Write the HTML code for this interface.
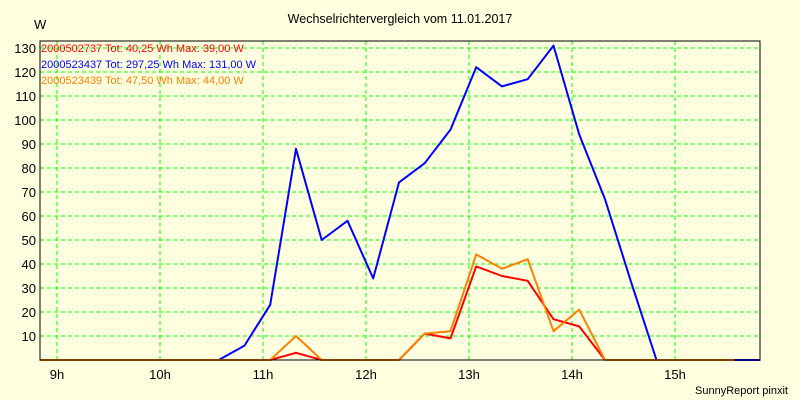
<!DOCTYPE html>
<html><head><meta charset="utf-8"><style>
html,body{margin:0;padding:0;background:#FFFFE0;}
svg{display:block;font-family:"Liberation Sans",sans-serif;}
</style></head><body>
<svg id="chart" width="800" height="400" viewBox="0 0 800 400">
<rect x="0" y="0" width="800" height="400" fill="#FFFFE0"/>
<text x="400" y="23" font-size="12.5" text-anchor="middle" fill="#000">Wechselrichtervergleich vom 11.01.2017</text>
<text x="34" y="29" font-size="13" fill="#000">W</text>
<g id="grid"></g>
<g id="axes"></g>
<g id="series"></g>
<rect x="40" y="41" width="720" height="319" fill="none" stroke="#000" stroke-width="1"/>
<g id="legend">
<text x="41" y="52" font-size="11" fill="#FF0000">2000502737 Tot: 40,25 Wh Max: 39,00 W</text>
<text x="41" y="68" font-size="11" fill="#0000FF">2000523437 Tot: 297,25 Wh Max: 131,00 W</text>
<text x="41" y="84" font-size="11" fill="#FF8000">2000523439 Tot: 47,50 Wh Max: 44,00 W</text>
</g>
<text x="788" y="394" font-size="11" text-anchor="end" fill="#000">SunnyReport pinxit</text>
</svg>
<script>
const yTicks = [10,20,30,40,50,60,70,80,90,100,110,120,130];
const xTicks = [9,10,11,12,13,14,15];
const xTickLabels = ["9h","10h","11h","12h","13h","14h","15h"];
const blueTimes = [8.83,10.57,10.82,11.07,11.32,11.57,11.82,12.07,12.32,12.57,12.82,13.07,13.32,13.57,13.82,14.07,14.32,14.57,14.82,15.83];
const blueVals  = [0,0,6,23,88,50,58,34,74,82,96,122,114,117,131,94,67,33,0,0];
const redTimes = [8.83,11.07,11.32,11.57,12.32,12.57,12.82,13.07,13.32,13.57,13.82,14.07,14.32,15.58];
const redVals  = [0,0,3,0,0,11,9,39,35,33,17,14,0,0];
const orangeTimes = [8.83,11.07,11.32,11.57,12.32,12.57,12.82,13.07,13.32,13.57,13.82,14.07,14.32,15.58];
const orangeVals  = [0,0,10,0,0,11,12,44,38,42,12,21,0,0];

const NS="http://www.w3.org/2000/svg";
function xs(h){return 57+103*(h-9);}
function ys(v){return 360-2.4*v;}
const grid=document.getElementById('grid'), axes=document.getElementById('axes'), series=document.getElementById('series');
yTicks.forEach(v=>{
  const l=document.createElementNS(NS,'line');
  l.setAttribute('x1',40);l.setAttribute('x2',760);l.setAttribute('y1',ys(v));l.setAttribute('y2',ys(v));
  l.setAttribute('stroke','#00FF00');l.setAttribute('stroke-dasharray','4,3');
  
  
  grid.appendChild(l);
  const t=document.createElementNS(NS,'text');
  t.setAttribute('x',36);t.setAttribute('y',ys(v)+5);t.setAttribute('text-anchor','end');t.setAttribute('font-size','13');
  t.textContent=v;
  
  
  axes.appendChild(t);
});
xTicks.forEach((h,i)=>{
  const l=document.createElementNS(NS,'line');
  l.setAttribute('x1',xs(h));l.setAttribute('x2',xs(h));l.setAttribute('y1',41);l.setAttribute('y2',360);
  l.setAttribute('stroke','#00FF00');l.setAttribute('stroke-dasharray','4,3');
  
  
  grid.appendChild(l);
  const t=document.createElementNS(NS,'text');
  t.setAttribute('x',xs(h));t.setAttribute('y',379);t.setAttribute('text-anchor','middle');t.setAttribute('font-size','13');
  t.textContent=xTickLabels[i];
  
  
  axes.appendChild(t);
});
function line(times,vals,color,name){
  const p=document.createElementNS(NS,'polyline');
  p.setAttribute('points',times.map((h,i)=>xs(h).toFixed(1)+','+ys(vals[i]).toFixed(1)).join(' '));
  p.setAttribute('fill','none');p.setAttribute('stroke',color);p.setAttribute('stroke-width','2');p.setAttribute('stroke-linejoin','round');
  
  
  series.appendChild(p);
}
line(blueTimes,blueVals,'#0000FF','series-2000523437');
line(redTimes,redVals,'#FF0000','series-2000502737');
line(orangeTimes,orangeVals,'#FF8000','series-2000523439');
</script>
</body></html>
